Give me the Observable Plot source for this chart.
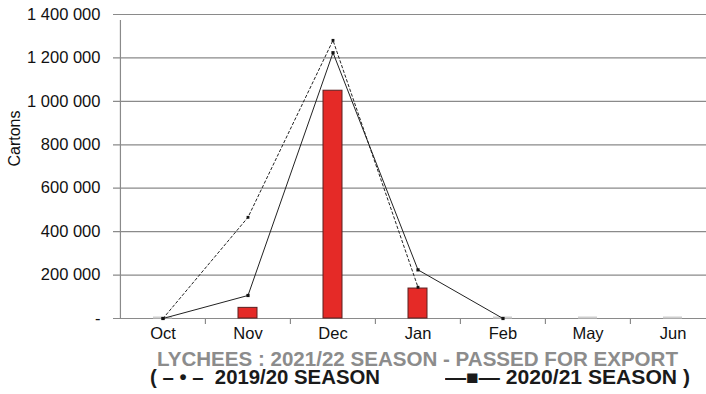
<!DOCTYPE html>
<html>
<head>
<meta charset="utf-8">
<script src="https://cdn.jsdelivr.net/npm/d3@7"></script>
<script src="https://cdn.jsdelivr.net/npm/@observablehq/plot@0.6"></script>
<style>
  html, body { margin: 0; padding: 0; background: #fff; overflow: hidden; }
  #chart { width: 706px; height: 342px; overflow: hidden; }
  .t { position: absolute; white-space: pre; font-family: "Liberation Sans", Arial, sans-serif; font-weight: bold; transform-origin: 0 0; line-height: 16px; }
  #t1 { top: 351px; left: 157px; font-size: 21px; color: #8c8c8c; }
  #t2 { top: 369px; left: 150px; font-size: 19.5px; color: #1a1a1a; }
  #t3 { top: 369px; left: 445px; font-size: 19.5px; color: #1a1a1a; }
</style>
</head>
<body>
<div id="chart"></div>
<div class="t" id="t1" data-w="521">LYCHEES : 2021/22 SEASON - PASSED FOR EXPORT</div>
<div class="t" id="t2" data-w="230">( – • –  2019/20 SEASON</div>
<div class="t" id="t3" data-w="245">—■— 2020/21 SEASON )</div>
<script>
const months = ["Oct", "Nov", "Dec", "Jan", "Feb", "May", "Jun"];
const season2122 = [0, 49000, 1049000, 138000, 0, 0, 0];
const season1920Months = ["Oct", "Nov", "Dec", "Jan"];
const season1920 = [0, 466000, 1281000, 144000];
const season2021Months = ["Oct", "Nov", "Dec", "Jan", "Feb"];
const season2021 = [0, 106000, 1224000, 224000, 0];
const yTicks = [0, 200000, 400000, 600000, 800000, 1000000, 1200000, 1400000];

const bars = months.map((m, i) => ({month: m, value: season2122[i]}));
const s1 = season1920Months.map((m, i) => ({month: m, value: season1920[i]}));
const s2 = season2021Months.map((m, i) => ({month: m, value: season2021[i]}));
const fmt = d => d === 0 ? "-" : d3.format(",")(d).replace(/,/g, " ");

const bw = 596 / 7;
const chart = Plot.plot({
  width: 706,
  height: 342,
  marginTop: 14,
  marginBottom: 24,
  marginLeft: 119,
  marginRight: 0,
  style: {fontFamily: "'Liberation Sans', Arial, sans-serif", fontSize: "16px", color: "#111", background: "#fff"},
  x: {domain: months, range: [119, 715], padding: 0, axis: null},
  y: {domain: [0, 1400000], axis: null},
  marks: [
    Plot.ruleY(yTicks.slice(1), {y: d => d, stroke: "#8a8a8a", strokeWidth: 1.2, insetLeft: -6}),
    Plot.ruleY([0], {stroke: "#8a8a8a", strokeWidth: 1.2, insetLeft: -6}),
    Plot.ruleX(["Oct"], {x: d => d, y1: 0, y2: 1400000, dx: -bw / 2, stroke: "#8a8a8a", strokeWidth: 1.2, insetBottom: -6}),
    Plot.ruleX(months.slice(1), {x: d => d, y1: 0, y2: 0, dx: -bw / 2, stroke: "#8a8a8a", strokeWidth: 1.2, insetBottom: -6}),
    Plot.text(yTicks, {x: () => "Oct", y: d => d, text: fmt, dx: -bw / 2 - 20, textAnchor: "end", fontSize: 16.5, fill: "#111"}),
    Plot.text(months, {x: d => d, y: () => 0, text: d => d, dy: 15, fontSize: 16.5, fill: "#111"}),
    Plot.text(["Cartons"], {frameAnchor: "left", rotate: -90, dx: -105, fontSize: 16, fill: "#111"}),
    Plot.tickY(bars.filter(d => d.value === 0), {x: "month", y: "value", dy: -1, insetLeft: 33, insetRight: 33, stroke: "#cfcfcf", strokeWidth: 2}),
    Plot.barY(bars.filter(d => d.value > 0), {x: "month", y: "value", insetLeft: 33, insetRight: 33, fill: "#e52a27", stroke: "#5a2020", strokeWidth: 1}),
    Plot.line(s1, {x: "month", y: "value", stroke: "#222", strokeWidth: 1, strokeDasharray: "2.5,2.5"}),
    Plot.dot(s1, {x: "month", y: "value", symbol: "square", r: 1.6, fill: "#111"}),
    Plot.line(s2, {x: "month", y: "value", stroke: "#222", strokeWidth: 1}),
    Plot.dot(s2, {x: "month", y: "value", symbol: "square", r: 1.8, fill: "#111"})
  ]
});
document.getElementById("chart").appendChild(chart);
document.querySelectorAll(".t").forEach(el => {
  const w = el.getBoundingClientRect().width;
  const target = +el.dataset.w;
  el.style.transform = `scaleX(${target / w})`;
});
</script>
</body>
</html>
